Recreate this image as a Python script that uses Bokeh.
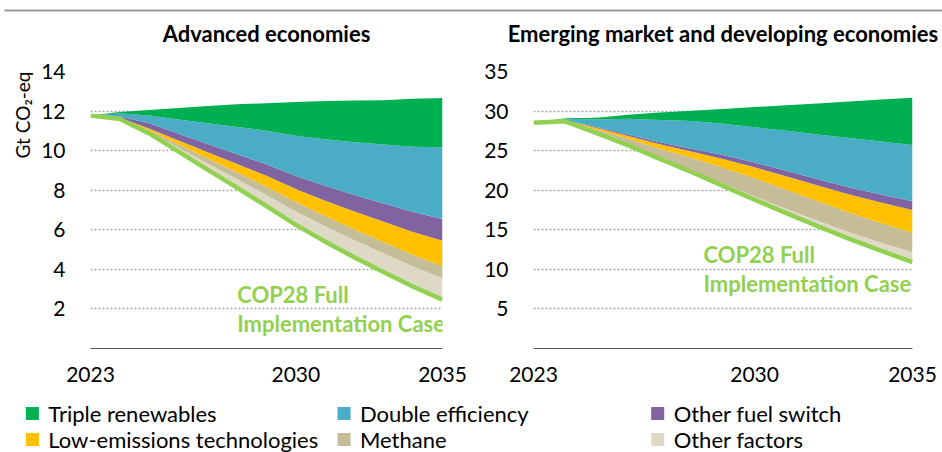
import numpy as np
from bokeh.plotting import figure
from bokeh.layouts import column, row
from bokeh.models import Range1d, FixedTicker, ColumnDataSource, Label, Title
from bokeh.embed import file_html
from bokeh.resources import INLINE
from bokeh.core.properties import value

# ---------------- data ----------------
years = list(range(2023, 2036))
x_tick_years = [2023, 2030, 2035]

categories = ["Triple renewables", "Double efficiency", "Other fuel switch",
              "Low-emissions technologies", "Methane", "Other factors"]
category_colors = ["#00B050", "#4BACC6", "#8064A2", "#FFC000", "#C4BD97", "#DDD9C4"]
cop28_text = ["COP28 Full", "Implementation Case"]
y_axis_title = "Gt CO\u2082-eq"

adv_title = "Advanced economies"
adv_yticks = [2, 4, 6, 8, 10, 12, 14]
adv_cop28 = [11.77, 11.60, 10.87, 9.95, 9.03, 8.12, 7.20, 6.25, 5.40, 4.60, 3.85, 3.12, 2.47]
adv_other_factors = [0, 0.02, 0.08, 0.20, 0.32, 0.44, 0.56, 0.67, 0.78, 0.87, 0.95, 1.02, 1.08]
adv_methane = [0, 0.02, 0.08, 0.16, 0.25, 0.33, 0.42, 0.49, 0.52, 0.55, 0.57, 0.59, 0.61]
adv_low_emissions = [0, 0.02, 0.09, 0.20, 0.32, 0.43, 0.55, 0.65, 0.77, 0.90, 1.03, 1.16, 1.29]
adv_fuel_switch = [0, 0.06, 0.26, 0.34, 0.42, 0.50, 0.58, 0.66, 0.75, 0.84, 0.93, 1.01, 1.10]
adv_efficiency = [0, 0.16, 0.39, 0.72, 1.05, 1.38, 1.70, 2.03, 2.35, 2.67, 2.98, 3.30, 3.62]
adv_renewables = [0, 0.07, 0.28, 0.58, 0.87, 1.14, 1.39, 1.71, 1.94, 2.10, 2.24, 2.42, 2.49]

emde_title = "Emerging market and developing economies"
emde_yticks = [5, 10, 15, 20, 25, 30, 35]
emde_cop28 = [28.53, 28.70, 27.20, 25.65, 23.95, 22.30, 20.55, 18.80, 17.10, 15.45, 13.85, 12.35, 10.90]
emde_other_factors = [0, 0, 0.05, 0.10, 0.15, 0.20, 0.30, 0.40, 0.55, 0.70, 0.85, 1.05, 1.25]
emde_methane = [0, 0.10, 0.40, 0.75, 1.15, 1.60, 2.00, 2.30, 2.40, 2.45, 2.45, 2.45, 2.45]
emde_low_emissions = [0, 0.05, 0.20, 0.35, 0.55, 0.80, 1.10, 1.40, 1.70, 2.00, 2.30, 2.60, 2.90]
emde_fuel_switch = [0, 0.03, 0.10, 0.18, 0.26, 0.35, 0.50, 0.60, 0.70, 0.80, 0.90, 1.00, 1.10]
emde_efficiency = [0, 0.15, 1.00, 2.00, 2.80, 3.50, 3.95, 4.45, 5.05, 5.65, 6.25, 6.70, 7.10]
emde_renewables = [0, 0.05, 0.20, 0.50, 0.95, 1.30, 1.85, 2.55, 3.25, 3.90, 4.60, 5.30, 5.98]

FONT = "Lato"
LINE_GREEN = "#92D050"
PANEL_H = 378
BORDER_TOP = 59
BORDER_BOTTOM = 42


def make_panel(title, cop28, layers, ymax, yticks, width, b_left, b_right,
               lab_x, lab_y, ylabel=None):
    p = figure(width=width, height=PANEL_H,
               x_range=Range1d(2023, 2035), y_range=Range1d(0, ymax),
               output_backend="svg", toolbar_location=None,
               min_border_left=b_left, min_border_right=b_right,
               min_border_top=BORDER_TOP, min_border_bottom=BORDER_BOTTOM)
    p.outline_line_color = None
    p.background_fill_color = "white"
    p.border_fill_color = "white"

    # blank spacer between title and frame
    p.add_layout(Title(text="\u00a0", text_font_size="7px", text_font=FONT), "above")
    p.title.text = title
    p.title.align = "center"
    p.title.text_font = FONT
    p.title.text_font_style = "bold"
    p.title.text_font_size = "22px"
    p.title.text_color = "#000000"

    # stacked wedges above the COP28 trajectory
    lower = np.array(cop28, dtype=float)
    for name, vals in layers:
        upper = lower + np.array(vals, dtype=float)
        col = category_colors[categories.index(name)]
        p.varea(x=years, y1=lower, y2=upper, fill_color=col, fill_alpha=1.0)
        lower = upper
    p.line(years, cop28, line_color=LINE_GREEN, line_width=4.5, line_join="round")

    yt = FixedTicker(ticks=yticks)
    p.yaxis.ticker = yt
    p.ygrid.ticker = yt
    p.ygrid.grid_line_color = "#A6A6A6"
    p.ygrid.grid_line_dash = "2 2"
    p.ygrid.grid_line_width = 1.5
    p.xgrid.visible = False

    p.yaxis.axis_line_color = None
    p.yaxis.major_tick_line_color = None
    p.yaxis.minor_tick_line_color = None
    p.yaxis.major_label_text_font = FONT
    p.yaxis.major_label_text_font_size = "21px"
    p.yaxis.major_label_text_color = "#000000"
    p.yaxis.major_label_standoff = 19

    if ylabel:
        p.add_layout(Title(text=ylabel, align="right", text_font=FONT,
                           text_font_style="normal", text_font_size="19px",
                           text_color="#000000"), "left")

    xt = FixedTicker(ticks=x_tick_years)
    p.xaxis.ticker = xt
    p.xaxis.axis_line_color = "#595959"
    p.xaxis.axis_line_width = 1.2
    p.xaxis.major_tick_line_color = None
    p.xaxis.minor_tick_line_color = None
    p.xaxis.major_label_text_font = FONT
    p.xaxis.major_label_text_font_size = "21px"
    p.xaxis.major_label_text_color = "#000000"
    p.xaxis.major_label_standoff = 12

    for txt, yy in zip(cop28_text, lab_y):
        p.add_layout(Label(x=lab_x, y=yy, text=txt, text_font=FONT,
                           text_font_style="bold", text_font_size="22px",
                           text_color=LINE_GREEN, text_baseline="middle",
                           text_align="left"))
    return p


adv_layers = [("Other factors", adv_other_factors), ("Methane", adv_methane),
              ("Low-emissions technologies", adv_low_emissions),
              ("Other fuel switch", adv_fuel_switch),
              ("Double efficiency", adv_efficiency),
              ("Triple renewables", adv_renewables)]
emde_layers = [("Other factors", emde_other_factors), ("Methane", emde_methane),
               ("Low-emissions technologies", emde_low_emissions),
               ("Other fuel switch", emde_fuel_switch),
               ("Double efficiency", emde_efficiency),
               ("Triple renewables", emde_renewables)]

p1 = make_panel(adv_title, adv_cop28, adv_layers, 14, adv_yticks, 470, 90, 28,
                lab_x=2028.0, lab_y=(2.73, 1.26), ylabel=y_axis_title)
p2 = make_panel(emde_title, emde_cop28, emde_layers, 35, emde_yticks, 472, 63, 30,
                lab_x=2028.38, lab_y=(11.88, 8.21))

# top rule (thin grey frame inside a white strip)
rule = figure(width=942, height=12, output_backend="svg", toolbar_location=None,
              x_range=Range1d(0, 1), y_range=Range1d(0, 1),
              min_border_top=9, min_border_bottom=1, min_border_left=4,
              min_border_right=0, background_fill_color="#9A9A9A",
              border_fill_color="white")
rule.outline_line_color = None
rule.axis.visible = False
rule.grid.visible = False

# legend strip
LEG_W, LEG_H = 942, 62
leg = figure(width=LEG_W, height=LEG_H, output_backend="svg", toolbar_location=None,
             x_range=Range1d(0, LEG_W), y_range=Range1d(LEG_H, 0), min_border=0)
leg.outline_line_color = None
leg.axis.visible = False
leg.grid.visible = False
col_x = [28, 341, 656]
row_y = [23, 49]
sx = [col_x[i % 3] for i in range(len(categories))]
sy = [row_y[i // 3] for i in range(len(categories))]
src = ColumnDataSource(dict(x=sx, y=sy, tx=[v + 16 for v in sx], label=categories,
                            color=category_colors))
leg.scatter(x="x", y="y", marker="square", size=13, fill_color="color",
            line_color=None, source=src)
leg.text(x="tx", y="y", text="label", source=src, text_font=value(FONT),
         text_font_size="22px", text_baseline="middle", text_align="left",
         text_color="#000000")

layout = column(rule, row(p1, p2), leg)
open("out.html", "w").write(file_html(layout, INLINE))
